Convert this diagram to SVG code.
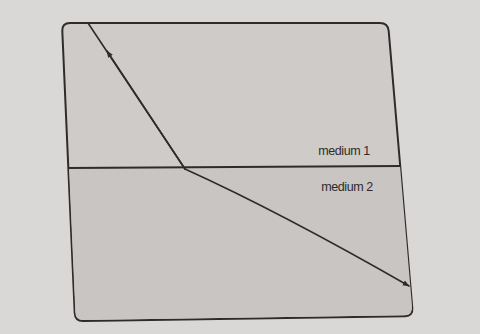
<svg xmlns="http://www.w3.org/2000/svg" width="480" height="334" viewBox="0 0 480 334">
  <style>
    .edge { fill: none; stroke: #2f2b2b; stroke-width: 1.6; stroke-linecap: round; }
    .lbl { font-family: "Liberation Sans", Arial, sans-serif; font-size: 12.5px; fill: #2f2b2b; text-anchor: middle; letter-spacing: -0.4px; }
  </style>
  <defs>
    <marker id="arr" viewBox="0 0 10 10" refX="9" refY="5" markerWidth="7" markerHeight="7" markerUnits="userSpaceOnUse" orient="auto">
      <path d="M0,1 L10,5 L0,9 Z" fill="#2f2b2b"/>
    </marker>
  </defs>
  <rect x="0" y="0" width="480" height="334" fill="#d9d8d6"/>
  <g id="box">
    <path d="M70,23 L380,23 Q388,23 388.7,31 L412.3,308 Q413,316 405,316.2 L83,321 Q75,321 74.7,313 L62.3,31 Q62,23 70,23 Z" fill="#cfcbc8" stroke="#2f2b2b" stroke-width="2"/>
    <path d="M69,168 L400,166 L412,306 Q412.5,315 405,315.2 L83,320 Q75.5,320 75.3,312 Z" fill="#c9c5c2"/>
  </g>
  <g id="interface">
    <line x1="68" y1="168" x2="400" y2="166" stroke="#2f2b2b" stroke-width="1.8"/>
  </g>
  <g id="medium1">
    <text class="lbl" x="344" y="155">medium 1</text>
  </g>
  <g id="medium2">
    <text class="lbl" x="347" y="191">medium 2</text>
  </g>
  <g id="connectors">
    <path class="edge" d="M185,169 L88,23"/>
    <path class="edge" d="M185,169 L107,51" marker-end="url(#arr)"/>
    <path class="edge" d="M185,169 Q280,212 409,286" marker-end="url(#arr)"/>
  </g>
</svg>
